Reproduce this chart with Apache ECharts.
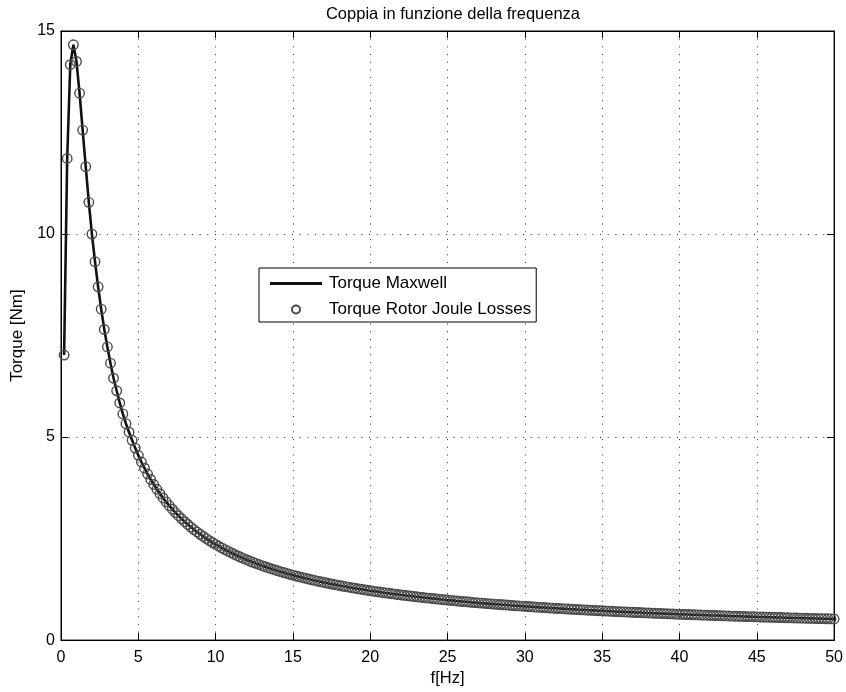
<!DOCTYPE html>
<html>
<head>
<meta charset="utf-8">
<script src="https://cdn.jsdelivr.net/npm/echarts@6/dist/echarts.min.js"></script>
<style>
html,body{margin:0;padding:0;background:#fff;}
#chart{width:846px;height:692px;}
</style>
</head>
<body>
<div id="chart"></div>
<script>
const chartTitle = 'Coppia in funzione della frequenza';
const xName = 'f[Hz]';
const yName = 'Torque [Nm]';
const seriesNames = ['Torque Maxwell', 'Torque Rotor Joule Losses'];
const xTicks = [0, 5, 10, 15, 20, 25, 30, 35, 40, 45, 50];
const yTicks = [0, 5, 10, 15];

const freq = [
  0.2, 0.4, 0.6, 0.8, 1.0, 1.2, 1.4, 1.6, 1.8, 2.0,
  2.2, 2.4, 2.6, 2.8, 3.0, 3.2, 3.4, 3.6, 3.8, 4.0,
  4.2, 4.4, 4.6, 4.8, 5.0, 5.2, 5.4, 5.6, 5.8, 6.0,
  6.2, 6.4, 6.6, 6.8, 7.0, 7.2, 7.4, 7.6, 7.8, 8.0,
  8.2, 8.4, 8.6, 8.8, 9.0, 9.2, 9.4, 9.6, 9.8, 10.0,
  10.2, 10.4, 10.6, 10.8, 11.0, 11.2, 11.4, 11.6, 11.8, 12.0,
  12.2, 12.4, 12.6, 12.8, 13.0, 13.2, 13.4, 13.6, 13.8, 14.0,
  14.2, 14.4, 14.6, 14.8, 15.0, 15.2, 15.4, 15.6, 15.8, 16.0,
  16.2, 16.4, 16.6, 16.8, 17.0, 17.2, 17.4, 17.6, 17.8, 18.0,
  18.2, 18.4, 18.6, 18.8, 19.0, 19.2, 19.4, 19.6, 19.8, 20.0,
  20.2, 20.4, 20.6, 20.8, 21.0, 21.2, 21.4, 21.6, 21.8, 22.0,
  22.2, 22.4, 22.6, 22.8, 23.0, 23.2, 23.4, 23.6, 23.8, 24.0,
  24.2, 24.4, 24.6, 24.8, 25.0, 25.2, 25.4, 25.6, 25.8, 26.0,
  26.2, 26.4, 26.6, 26.8, 27.0, 27.2, 27.4, 27.6, 27.8, 28.0,
  28.2, 28.4, 28.6, 28.8, 29.0, 29.2, 29.4, 29.6, 29.8, 30.0,
  30.2, 30.4, 30.6, 30.8, 31.0, 31.2, 31.4, 31.6, 31.8, 32.0,
  32.2, 32.4, 32.6, 32.8, 33.0, 33.2, 33.4, 33.6, 33.8, 34.0,
  34.2, 34.4, 34.6, 34.8, 35.0, 35.2, 35.4, 35.6, 35.8, 36.0,
  36.2, 36.4, 36.6, 36.8, 37.0, 37.2, 37.4, 37.6, 37.8, 38.0,
  38.2, 38.4, 38.6, 38.8, 39.0, 39.2, 39.4, 39.6, 39.8, 40.0,
  40.2, 40.4, 40.6, 40.8, 41.0, 41.2, 41.4, 41.6, 41.8, 42.0,
  42.2, 42.4, 42.6, 42.8, 43.0, 43.2, 43.4, 43.6, 43.8, 44.0,
  44.2, 44.4, 44.6, 44.8, 45.0, 45.2, 45.4, 45.6, 45.8, 46.0,
  46.2, 46.4, 46.6, 46.8, 47.0, 47.2, 47.4, 47.6, 47.8, 48.0,
  48.2, 48.4, 48.6, 48.8, 49.0, 49.2, 49.4, 49.6, 49.8, 50.0
];

const torqueMaxwell = [
  7.02, 11.86, 14.17, 14.66, 14.25, 13.47, 12.56, 11.66, 10.78, 10.00,
  9.32, 8.70, 8.15, 7.65, 7.22, 6.82, 6.45, 6.14, 5.84, 5.57,
  5.33, 5.12, 4.92, 4.728, 4.550, 4.386, 4.233, 4.090, 3.956, 3.832,
  3.715, 3.605, 3.501, 3.403, 3.311, 3.223, 3.140, 3.062, 2.987, 2.916,
  2.848, 2.783, 2.721, 2.662, 2.606, 2.552, 2.500, 2.450, 2.403, 2.357,
  2.313, 2.270, 2.229, 2.190, 2.152, 2.115, 2.079, 2.045, 2.012, 1.980,
  1.949, 1.919, 1.890, 1.862, 1.834, 1.808, 1.782, 1.757, 1.733, 1.709,
  1.686, 1.664, 1.642, 1.621, 1.600, 1.580, 1.561, 1.542, 1.523, 1.505,
  1.487, 1.470, 1.453, 1.437, 1.421, 1.405, 1.389, 1.374, 1.360, 1.345,
  1.331, 1.318, 1.304, 1.291, 1.278, 1.265, 1.253, 1.241, 1.229, 1.217,
  1.206, 1.195, 1.184, 1.173, 1.162, 1.152, 1.142, 1.132, 1.122, 1.112,
  1.103, 1.094, 1.085, 1.076, 1.067, 1.058, 1.050, 1.041, 1.033, 1.025,
  1.017, 1.009, 1.001, 0.994, 0.986, 0.979, 0.972, 0.964, 0.957, 0.950,
  0.944, 0.937, 0.930, 0.924, 0.917, 0.911, 0.905, 0.899, 0.893, 0.887,
  0.881, 0.875, 0.869, 0.864, 0.858, 0.853, 0.847, 0.842, 0.837, 0.831,
  0.826, 0.821, 0.816, 0.811, 0.806, 0.802, 0.797, 0.792, 0.788, 0.783,
  0.778, 0.774, 0.770, 0.765, 0.761, 0.757, 0.752, 0.748, 0.744, 0.740,
  0.736, 0.732, 0.728, 0.724, 0.721, 0.717, 0.713, 0.709, 0.706, 0.702,
  0.699, 0.695, 0.691, 0.688, 0.685, 0.681, 0.678, 0.675, 0.671, 0.668,
  0.665, 0.662, 0.658, 0.655, 0.652, 0.649, 0.646, 0.643, 0.640, 0.637,
  0.634, 0.631, 0.629, 0.626, 0.623, 0.620, 0.617, 0.615, 0.612, 0.609,
  0.607, 0.604, 0.602, 0.599, 0.596, 0.594, 0.591, 0.589, 0.587, 0.584,
  0.582, 0.579, 0.577, 0.575, 0.572, 0.570, 0.568, 0.566, 0.563, 0.561,
  0.559, 0.557, 0.555, 0.552, 0.550, 0.548, 0.546, 0.544, 0.542, 0.540,
  0.538, 0.536, 0.534, 0.532, 0.530, 0.528, 0.526, 0.524, 0.522, 0.520
];

// markers overlap the line point for point in the picture
const torqueJoule = torqueMaxwell.slice();

const FONT = '"Liberation Sans", Arial, Helvetica, sans-serif';
const chart = echarts.init(document.getElementById('chart'), null, {renderer: 'canvas'});

const gridDash = [1, 6.7];
function baseAxis(extra) {
  return Object.assign({
    type: 'value',
    axisLine: {show: true, onZero: false, lineStyle: {color: '#000', width: 1}},
    axisTick: {show: true, inside: true, length: 7, lineStyle: {color: '#000', width: 1}},
    minorTick: {show: false},
  }, extra);
}

chart.setOption({
  animation: false,
  backgroundColor: '#fff',
  textStyle: {fontFamily: FONT},
  title: {
    text: chartTitle,
    left: 448, top: 1, textAlign: 'center',
    textStyle: {fontFamily: FONT, fontSize: 16.5, fontWeight: 'normal', color: '#000'}
  },
  grid: {left: 61, right: 10, top: 31, bottom: 50, show: true, borderColor: '#000', borderWidth: 1, containLabel: false},
  legend: {
    orient: 'vertical',
    left: 259, top: 268,
    padding: [7, 5, 4, 11],
    itemGap: 9,
    itemWidth: 52, itemHeight: 8,
    backgroundColor: '#fff',
    borderColor: '#000', borderWidth: 1,
    textStyle: {fontFamily: FONT, fontSize: 17, color: '#000', padding: [0, 0, 0, 2]},
    data: [
      {name: seriesNames[0], icon: 'path://M0,0 H52 V3 H0 Z', itemStyle: {color: '#111'}},
      {name: seriesNames[1]}
    ]
  },
  xAxis: [
    baseAxis({
      min: xTicks[0], max: xTicks[xTicks.length - 1], interval: 5,
      position: 'bottom',
      name: xName, nameLocation: 'middle', nameGap: 28,
      nameTextStyle: {fontFamily: FONT, fontSize: 16.5, color: '#000'},
      axisLabel: {show: true, color: '#000', fontFamily: FONT, fontSize: 16, margin: 9},
      splitLine: {show: true, lineStyle: {color: '#333', width: 1, type: gridDash}}
    }),
    baseAxis({
      min: xTicks[0], max: xTicks[xTicks.length - 1], interval: 5,
      position: 'top',
      axisLabel: {show: false},
      splitLine: {show: false}
    })
  ],
  yAxis: [
    baseAxis({
      min: yTicks[0], max: yTicks[yTicks.length - 1], interval: 5,
      position: 'left',
      name: yName, nameLocation: 'middle', nameGap: 33, nameRotate: 90,
      nameTextStyle: {fontFamily: FONT, fontSize: 17, color: '#000'},
      axisLabel: {show: true, color: '#000', fontFamily: FONT, fontSize: 16, margin: 6},
      splitLine: {show: true, lineStyle: {color: '#333', width: 1, type: gridDash}}
    }),
    baseAxis({
      min: yTicks[0], max: yTicks[yTicks.length - 1], interval: 5,
      position: 'right',
      axisLabel: {show: false},
      splitLine: {show: false}
    })
  ],
  series: [
    {
      name: seriesNames[0],
      type: 'line',
      xAxisIndex: 0, yAxisIndex: 0,
      symbol: 'none',
      lineStyle: {color: '#111', width: 2.6},
      itemStyle: {color: '#111'},
      data: freq.map((f, i) => [f, torqueMaxwell[i]]),
      z: 2
    },
    {
      name: seriesNames[1],
      type: 'scatter',
      xAxisIndex: 0, yAxisIndex: 0,
      symbol: 'circle',
      symbolSize: 9.5,
      itemStyle: {color: 'rgba(0,0,0,0)', borderColor: '#4a4a4a', borderWidth: 1.4, opacity: 1},
      data: freq.map((f, i) => [f, torqueJoule[i]]),
      z: 3
    }
  ]
});
</script>
</body>
</html>
